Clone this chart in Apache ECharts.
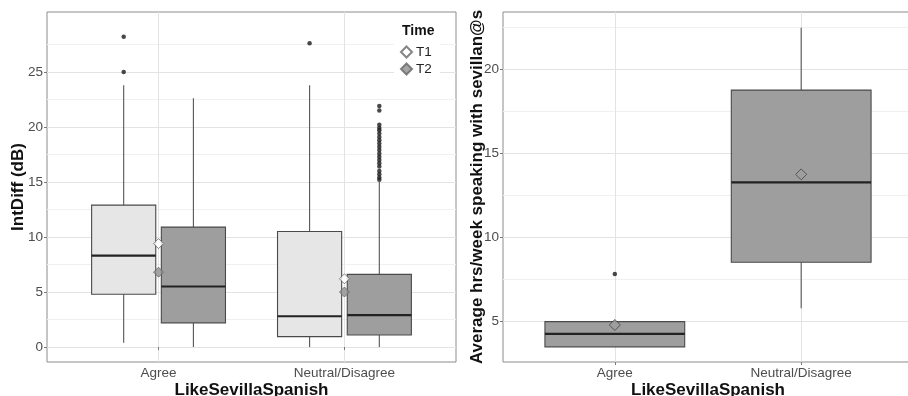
<!DOCTYPE html>
<html>
<head>
<meta charset="utf-8">
<script src="https://cdn.jsdelivr.net/npm/echarts@6/dist/echarts.min.js"></script>
<style>
  html, body { margin: 0; padding: 0; background: #fff; }
  #chart { width: 908px; height: 396px; }
</style>
</head>
<body>
<div id="chart"></div>
<script>
// categories + tick labels
const categories = ['Agree', 'Neutral/Disagree'];
const leftTicks = [0, 5, 10, 15, 20, 25];
const leftMinor = [2.5, 7.5, 12.5, 17.5, 22.5, 27.5];
const rightTicks = [5, 10, 15, 20];
const rightMinor = [7.5, 12.5, 17.5, 22.5];

// left panel, per category: [low, q1, median, q3, high]
const t1Box = [[0.4, 4.8, 8.3, 12.9, 23.8], [0, 0.95, 2.8, 10.5, 23.8]];
const t2Box = [[0, 2.2, 5.5, 10.9, 22.6], [0, 1.1, 2.9, 6.6, 15.0]];
const t1Mean = [9.4, 6.2];
const t2Mean = [6.8, 5.0];
const t1Outliers = [[28.2, 25.0], [27.6]];
const t2Outliers = [[], [21.9, 21.5, 20.2, 19.9, 19.7, 19.4, 19.1, 18.8, 18.5, 18.2, 17.9,
                         17.6, 17.3, 17.0, 16.7, 16.4, 16.0, 15.7, 15.4, 15.2]];

// right panel (hrs/week)
const hrsBox = [[3.5, 3.5, 4.27, 5.0, 5.0], [5.8, 8.53, 13.28, 18.76, 22.46]];
const hrsMean = [4.8, 13.75];
const hrsOutliers = [[7.83], []];

const DODGE = 0.1875;
const FONT = '"Liberation Sans", Arial, sans-serif';

function boxRows(stats, offset) {
    return stats.map((s, i) => [i + 1 + offset].concat(s));
}
function pointRows(vals, offset) {
    let rows = [];
    vals.forEach((list, i) => list.forEach(v => rows.push([i + 1 + offset, v])));
    return rows;
}
function meanRows(vals) {
    return vals.map((v, i) => [i + 1, v]);
}

function boxItem(width, fill) {
    return function (params, api) {
        const x = api.value(0);
        const lo = api.coord([x, api.value(1)]);
        const q1 = api.coord([x, api.value(2)]);
        const md = api.coord([x, api.value(3)]);
        const q3 = api.coord([x, api.value(4)]);
        const hi = api.coord([x, api.value(5)]);
        const half = api.size([width, 0])[0] / 2;
        const wStyle = {stroke: '#555', lineWidth: 1.1};
        return {
            type: 'group',
            children: [
                {type: 'line', shape: {x1: lo[0], y1: lo[1], x2: q1[0], y2: q1[1]}, style: wStyle},
                {type: 'line', shape: {x1: q3[0], y1: q3[1], x2: hi[0], y2: hi[1]}, style: wStyle},
                {type: 'rect', shape: {x: q3[0] - half, y: q3[1], width: half * 2, height: q1[1] - q3[1]},
                    style: {fill: fill, stroke: '#4a4a4a', lineWidth: 1.1}},
                {type: 'line', shape: {x1: md[0] - half, y1: md[1], x2: md[0] + half, y2: md[1]},
                    style: {stroke: '#222', lineWidth: 2.2}}
            ]
        };
    };
}

function xAxisFor(gridIndex) {
    return {
        type: 'value', gridIndex: gridIndex, min: 0.4, max: 2.6,
        axisLine: {show: false},
        axisTick: {show: true, length: 3, customValues: [1, 2], lineStyle: {color: '#777'}},
        axisLabel: {customValues: [1, 2], formatter: v => categories[Math.round(v) - 1],
            fontSize: 13.5, color: '#4d4d4d', fontFamily: FONT, margin: 4},
        splitLine: {show: true, lineStyle: {color: '#e3e3e3'}},
        name: 'LikeSevillaSpanish', nameLocation: 'middle', nameGap: 20, nameMoveOverlap: false,
        nameTextStyle: {fontSize: 17, fontWeight: 'bold', color: '#111', fontFamily: FONT}
    };
}
function yAxisFor(gridIndex, min, max, ticks, name, gap) {
    return {
        type: 'value', gridIndex: gridIndex, min: min, max: max,
        axisLine: {show: false},
        axisTick: {show: true, length: 3, customValues: ticks, lineStyle: {color: '#777'}},
        axisLabel: {customValues: ticks, fontSize: 13.5, color: '#4d4d4d', fontFamily: FONT, margin: 4},
        splitLine: {show: true, lineStyle: {color: '#e3e3e3'}},
        name: name, nameLocation: 'middle', nameGap: gap, nameMoveOverlap: false,
        nameTextStyle: {fontSize: 17, fontWeight: 'bold', color: '#111', fontFamily: FONT}
    };
}
function minorAxisFor(gridIndex, min, max, ticks) {
    return {
        type: 'value', gridIndex: gridIndex, min: min, max: max,
        axisLine: {show: false},
        axisTick: {show: false, customValues: ticks},
        axisLabel: {show: false},
        splitLine: {show: true, lineStyle: {color: '#f0f0f0'}}
    };
}

const chart = echarts.init(document.getElementById('chart'), null, {renderer: 'canvas'});

const option = {
    animation: false,
    backgroundColor: '#fff',
    title: {
        text: 'Time', left: 397, top: 19,
        textStyle: {fontSize: 14, fontWeight: 'bold', color: '#111', fontFamily: FONT}
    },
    legend: {
        data: ['T1', 'T2'], orient: 'vertical', left: 394, top: 17,
        padding: [28, 8, 4, 6], itemGap: 3, itemWidth: 11, itemHeight: 11,
        backgroundColor: '#fff',
        textStyle: {fontSize: 13.5, color: '#222', fontFamily: FONT, padding: [0, 0, 0, -1]}
    },
    grid: [
        {left: 47, top: 12, width: 409, height: 350, outerBoundsMode: 'none',
            show: true, borderColor: '#8c8c8c', borderWidth: 1},
        {left: 503, top: 12, width: 410, height: 350, outerBoundsMode: 'none',
            show: true, borderColor: '#8c8c8c', borderWidth: 1}
    ],
    xAxis: [xAxisFor(0), xAxisFor(1)],
    yAxis: [
        yAxisFor(0, -1.36, 30.45, leftTicks, 'IntDiff (dB)', 20),
        minorAxisFor(0, -1.36, 30.45, leftMinor),
        yAxisFor(1, 2.6, 23.4, rightTicks, 'Average hrs/week speaking with sevillan@s', 17),
        minorAxisFor(1, 2.6, 23.4, rightMinor)
    ],
    series: [
        {type: 'custom', name: 'T1 box', xAxisIndex: 0, yAxisIndex: 0,
            renderItem: boxItem(0.345, '#e6e6e6'), encode: {x: 0, y: [1, 2, 3, 4, 5]},
            data: boxRows(t1Box, -DODGE), z: 2},
        {type: 'custom', name: 'T2 box', xAxisIndex: 0, yAxisIndex: 0,
            renderItem: boxItem(0.345, '#9e9e9e'), encode: {x: 0, y: [1, 2, 3, 4, 5]},
            data: boxRows(t2Box, DODGE), z: 2},
        {type: 'scatter', xAxisIndex: 0, yAxisIndex: 0, symbolSize: 4.5,
            itemStyle: {color: '#1a1a1a'}, data: pointRows(t1Outliers, -DODGE), z: 3},
        {type: 'scatter', xAxisIndex: 0, yAxisIndex: 0, symbolSize: 4.5,
            itemStyle: {color: '#1a1a1a'}, data: pointRows(t2Outliers, DODGE), z: 3},
        {type: 'scatter', name: 'T1', xAxisIndex: 0, yAxisIndex: 0, symbol: 'diamond', symbolSize: 10,
            itemStyle: {color: '#ffffff', borderColor: '#666', borderWidth: 1}, data: meanRows(t1Mean), z: 4},
        {type: 'scatter', name: 'T2', xAxisIndex: 0, yAxisIndex: 0, symbol: 'diamond', symbolSize: 10,
            itemStyle: {color: '#8f8f8f', borderColor: '#666', borderWidth: 1}, data: meanRows(t2Mean), z: 4},

        {type: 'custom', name: 'hrs box', xAxisIndex: 1, yAxisIndex: 2,
            renderItem: boxItem(0.75, '#9e9e9e'), encode: {x: 0, y: [1, 2, 3, 4, 5]},
            data: boxRows(hrsBox, 0), z: 2},
        {type: 'scatter', xAxisIndex: 1, yAxisIndex: 2, symbolSize: 4.5,
            itemStyle: {color: '#1a1a1a'}, data: pointRows(hrsOutliers, 0), z: 3},
        {type: 'scatter', name: 'hrs mean', xAxisIndex: 1, yAxisIndex: 2, symbol: 'diamond', symbolSize: 11,
            itemStyle: {color: '#9e9e9e', borderColor: '#444', borderWidth: 1}, data: meanRows(hrsMean), z: 4}
    ]
};

chart.setOption(option);
</script>
</body>
</html>
